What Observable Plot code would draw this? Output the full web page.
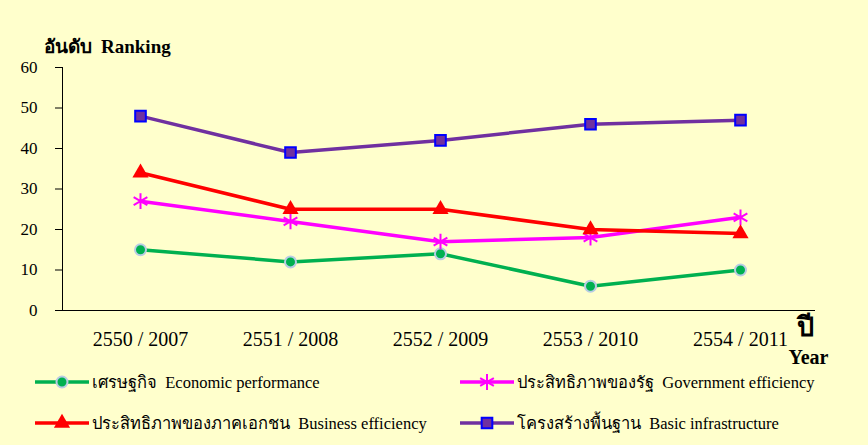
<!DOCTYPE html>
<html><head><meta charset="utf-8">
<script src="https://cdn.jsdelivr.net/npm/d3@7"></script>
<script src="https://cdn.jsdelivr.net/npm/@observablehq/plot@0.6"></script>
<style>
body{margin:0;background:#FFFFCC;}
#wrap{width:868px;height:445px;background:#FFFFCC;overflow:hidden;font-family:"Liberation Serif","Times New Roman",serif;}
#chart svg{display:block;overflow:visible;}
#legend{display:grid;grid-template-columns:425px 400px;grid-auto-rows:41px;padding-left:35px;margin-top:-9px;}
.item{display:flex;align-items:center;font-size:16.5px;color:#000;white-space:nowrap;}
.item svg{margin-right:3px;flex:none;}
</style></head><body><div id="wrap"><div id="chart"></div><div id="legend"></div></div>
<script>
const years = ["2550 / 2007","2551 / 2008","2552 / 2009","2553 / 2010","2554 / 2011"];
const economic = [15,12,14,6,10];
const government = [27,22,17,18,23];
const business = [34,25,25,20,19];
const infrastructure = [48,39,42,46,47];
const seriesNames = ["Economic performance","Government efficiency","Business efficiency","Basic infrastructure"];
const thaiNames = ["เศรษฐกิจ","ประสิทธิภาพของรัฐ","ประสิทธิภาพของภาคเอกชน","โครงสร้างพื้นฐาน"];
const yTicks = [0,10,20,30,40,50,60];
const lineColors = ["#00B050","#FF00FF","#FF0000","#7030A0"];
const markerStyles = [
  {symbol:"circle", fill:"#00B050", stroke:"#B8CCE4", strokeWidth:2, r:5.5},
  {symbol:"asterisk", fill:"none", stroke:"#FF00FF", strokeWidth:2, r:7.5},
  {symbol:"triangle", fill:"#FF0000", stroke:"none", strokeWidth:0, r:6},
  {symbol:"square", fill:"#7030A0", stroke:"#0000FF", strokeWidth:2, r:6}
];
const allValues = [economic, government, business, infrastructure];

const marks = [
  Plot.frame({anchor:"left", stroke:"#000"}),
  Plot.ruleY([0], {stroke:"#000", strokeWidth:1.2}),
  Plot.axisY({ticks: yTicks, tickSize:7, tickPadding:18, fontSize:17, label:null}),
  Plot.axisX({tickSize:0, tickPadding:21, fontSize:20, label:null}),
  Plot.text(["อันดับ  Ranking"], {frameAnchor:"top-left", textAnchor:"start", lineAnchor:"middle", dx:-19, dy:-21, fontSize:19, fontWeight:"bold"}),
  Plot.text(["ปี"], {frameAnchor:"bottom-right", textAnchor:"middle", lineAnchor:"middle", dx:-10, dy:17, fontSize:27, fontWeight:"bold"}),
  Plot.text(["Year"], {frameAnchor:"bottom-right", textAnchor:"middle", lineAnchor:"middle", dx:-7, dy:47, fontSize:20, fontWeight:"bold"})
];
allValues.forEach((vals, i) => {
  const data = years.map((y, j) => ({year: y, value: vals[j]}));
  const m = markerStyles[i];
  marks.push(Plot.line(data, {x:"year", y:"value", stroke: lineColors[i], strokeWidth:3.5}));
  marks.push(Plot.dot(data, {x:"year", y:"value", symbol:m.symbol, fill:m.fill, stroke:m.stroke, strokeWidth:m.strokeWidth, r:m.r}));
});

const chart = Plot.plot({
  width: 868, height: 370,
  marginLeft: 62, marginRight: 53, marginTop: 67, marginBottom: 60,
  style: {background:"transparent", fontFamily:"'Liberation Serif','Times New Roman',serif", fontSize:"17px", color:"#000", overflow:"visible"},
  x: {type:"point", domain: years, padding:0.506, align:0.507},
  y: {domain:[0,60]},
  marks
});
document.getElementById("chart").appendChild(chart);

const symMap = {circle:d3.symbolCircle, asterisk:d3.symbolAsterisk, triangle:d3.symbolTriangle, square:d3.symbolSquare};
const legend = d3.select("#legend");
seriesNames.forEach((name, i) => {
  const m = markerStyles[i];
  const item = legend.append("div").attr("class","item");
  const s = item.append("svg").attr("width",54).attr("height",22);
  s.append("line").attr("x1",0).attr("x2",54).attr("y1",11).attr("y2",11).attr("stroke",lineColors[i]).attr("stroke-width",3.5);
  s.append("path").attr("transform","translate(27,11)")
    .attr("d", d3.symbol(symMap[m.symbol], Math.PI*m.r*m.r)())
    .attr("fill", m.fill).attr("stroke", m.stroke).attr("stroke-width", m.strokeWidth);
  item.append("span").text(thaiNames[i] + "\u00a0\u00a0" + name);
});
</script></body></html>
